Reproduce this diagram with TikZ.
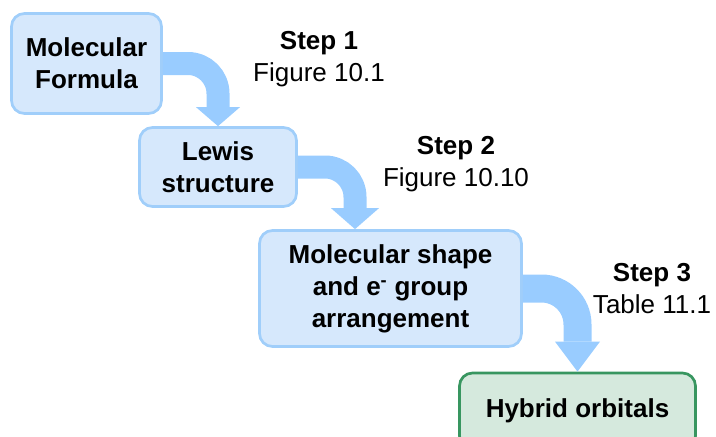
\documentclass[tikz,border=0pt]{standalone}
\usepackage{fontspec}
\setmainfont{Liberation Sans}
\usepackage{tikz}
\usetikzlibrary{arrows.meta}
\definecolor{boxfill}{RGB}{214,232,252}
\definecolor{boxedge}{RGB}{160,206,250}
\definecolor{arrowblue}{RGB}{153,204,255}
\definecolor{greenfill}{RGB}{213,233,221}
\definecolor{greenedge}{RGB}{56,150,96}

\begin{document}
\begin{tikzpicture}[
    x=1pt, y=-1pt,
    stepbox/.style={
        rectangle, rounded corners=13pt,
        draw=boxedge, fill=boxfill, line width=2.7pt,
        align=center, inner sep=0pt,
        font=\fontsize{26}{32}\selectfont\bfseries
    },
    label/.style={
        align=center, inner sep=0pt,
        font=\fontsize{26}{32}\selectfont
    },
    bend/.style={
        draw=arrowblue, line width=#1, line cap=butt
    }
]
\clip (0,0) rectangle (716,437);

% =================== Boxes ===================
\node[stepbox, minimum width=150pt, minimum height=100pt]
    (formula) at (86.5,63.5) {Molecular\\Formula};
\node[stepbox, minimum width=157pt, minimum height=79pt]
    (lewis) at (218,167) {Lewis\\structure};
\node[stepbox, minimum width=262pt, minimum height=116pt]
    (shape) at (390.5,288.5) {Molecular shape\\and e\textsuperscript{-} group\\arrangement};
\node[stepbox, draw=greenedge, fill=greenfill, minimum width=236pt, minimum height=76pt]
    (hybrid) at (577.5,411) {Hybrid orbitals};

% =================== Step labels ===================
\node[label] (step1) at (319,59) {\textbf{Step 1}\\Figure 10.1};
\node[label] (step2) at (456,164) {\textbf{Step 2}\\Figure 10.10};
\node[label] (step3) at (652,289) {\textbf{Step 3}\\Table 11.1};

% =================== Bent arrows ===================
\draw[bend=23pt, rounded corners=30pt,
      -{Triangle[width=44pt, length=19pt, line width=0pt]}]
    (formula.east) -| (lewis.north);
\draw[bend=23pt, rounded corners=30pt,
      -{Triangle[width=48pt, length=21pt, line width=0pt]}]
    (lewis.east) -| ([xshift=-35.5pt]shape.north);
\draw[bend=28pt, rounded corners=36pt,
      -{Triangle[width=45pt, length=30pt, line width=0pt]}]
    (shape.east) -| (hybrid.north);

\end{tikzpicture}
\end{document}
